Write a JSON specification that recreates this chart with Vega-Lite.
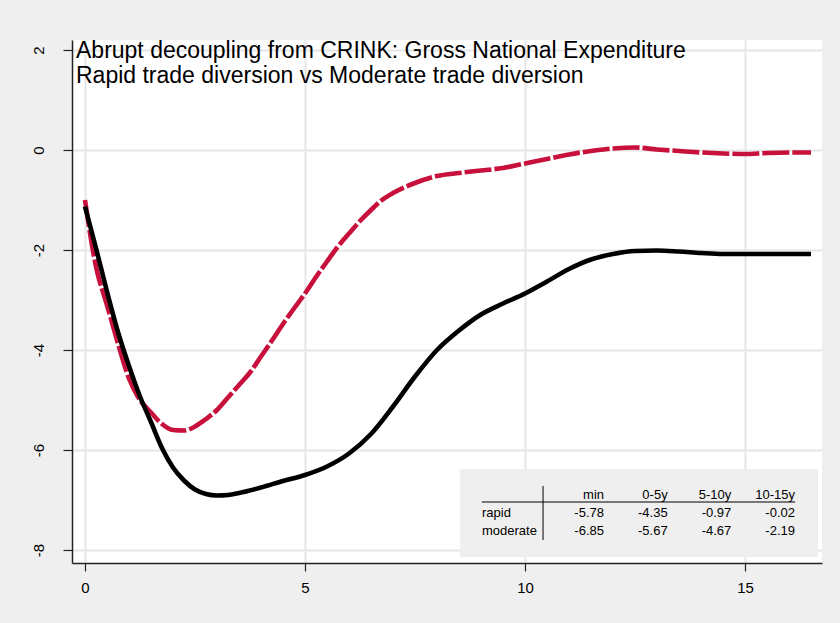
{
  "$schema": "https://vega.github.io/schema/vega-lite/v6.json",
  "autosize": {"type": "none"},
  "width": 750,
  "height": 523,
  "padding": {"left": 72, "top": 40, "right": 18, "bottom": 60},
  "background": "#efefef",
  "config": {
    "view": {"stroke": null, "fill": "white"},
    "font": "Liberation Sans",
    "axis": {
      "labelFont": "Liberation Sans",
      "labelFontSize": 15,
      "labelColor": "black",
      "domainColor": "#222",
      "domainWidth": 1.5,
      "tickColor": "#222",
      "tickWidth": 1.2,
      "gridColor": "#e6e6e6",
      "gridWidth": 2,
      "title": null,
      "labelExpr": "toString(datum.value)"
    }
  },
  "title": {
    "text": ["Abrupt decoupling from CRINK: Gross National Expenditure", "Rapid trade diversion vs Moderate trade diversion"],
    "anchor": "start",
    "frame": "group",
    "orient": "top",
    "baseline": "top",
    "offset": 0,
    "dx": 4,
    "dy": 48,
    "font": "Liberation Sans",
    "fontSize": 23,
    "fontWeight": "normal",
    "color": "black",
    "lineHeight": 25
  },
  "datasets": {
    "series": [
      {"t": 0, "series": "rapid", "value": -1.00},
      {"t": 0.25, "series": "rapid", "value": -2.33},
      {"t": 0.5, "series": "rapid", "value": -3.10},
      {"t": 0.75, "series": "rapid", "value": -3.87},
      {"t": 1.0, "series": "rapid", "value": -4.57},
      {"t": 1.25, "series": "rapid", "value": -5.00},
      {"t": 1.5, "series": "rapid", "value": -5.25},
      {"t": 1.75, "series": "rapid", "value": -5.48},
      {"t": 2.0, "series": "rapid", "value": -5.60},
      {"t": 2.25, "series": "rapid", "value": -5.61},
      {"t": 2.5, "series": "rapid", "value": -5.53},
      {"t": 2.75, "series": "rapid", "value": -5.38},
      {"t": 3.0, "series": "rapid", "value": -5.20},
      {"t": 3.25, "series": "rapid", "value": -4.95},
      {"t": 3.5, "series": "rapid", "value": -4.70},
      {"t": 3.75, "series": "rapid", "value": -4.45},
      {"t": 4.0, "series": "rapid", "value": -4.13},
      {"t": 4.25, "series": "rapid", "value": -3.81},
      {"t": 4.5, "series": "rapid", "value": -3.48},
      {"t": 4.75, "series": "rapid", "value": -3.17},
      {"t": 5.0, "series": "rapid", "value": -2.87},
      {"t": 5.25, "series": "rapid", "value": -2.54},
      {"t": 5.5, "series": "rapid", "value": -2.23},
      {"t": 5.75, "series": "rapid", "value": -1.93},
      {"t": 6.0, "series": "rapid", "value": -1.67},
      {"t": 6.25, "series": "rapid", "value": -1.42},
      {"t": 6.5, "series": "rapid", "value": -1.20},
      {"t": 6.75, "series": "rapid", "value": -1.00},
      {"t": 7.0, "series": "rapid", "value": -0.86},
      {"t": 7.5, "series": "rapid", "value": -0.66},
      {"t": 8.0, "series": "rapid", "value": -0.52},
      {"t": 8.5, "series": "rapid", "value": -0.46},
      {"t": 9.0, "series": "rapid", "value": -0.41},
      {"t": 9.5, "series": "rapid", "value": -0.36},
      {"t": 10.0, "series": "rapid", "value": -0.27},
      {"t": 10.5, "series": "rapid", "value": -0.18},
      {"t": 11.0, "series": "rapid", "value": -0.09},
      {"t": 11.5, "series": "rapid", "value": -0.02},
      {"t": 12.0, "series": "rapid", "value": 0.03},
      {"t": 12.5, "series": "rapid", "value": 0.05},
      {"t": 13.0, "series": "rapid", "value": 0.01},
      {"t": 13.5, "series": "rapid", "value": -0.02},
      {"t": 14.0, "series": "rapid", "value": -0.05},
      {"t": 14.5, "series": "rapid", "value": -0.07},
      {"t": 15.0, "series": "rapid", "value": -0.08},
      {"t": 15.5, "series": "rapid", "value": -0.06},
      {"t": 16.0, "series": "rapid", "value": -0.05},
      {"t": 16.5, "series": "rapid", "value": -0.05},
      {"t": 0, "series": "moderate", "value": -1.13},
      {"t": 0.25, "series": "moderate", "value": -1.96},
      {"t": 0.5, "series": "moderate", "value": -2.83},
      {"t": 0.75, "series": "moderate", "value": -3.64},
      {"t": 1.0, "series": "moderate", "value": -4.32},
      {"t": 1.25, "series": "moderate", "value": -4.93},
      {"t": 1.5, "series": "moderate", "value": -5.44},
      {"t": 1.75, "series": "moderate", "value": -5.96},
      {"t": 2.0, "series": "moderate", "value": -6.35},
      {"t": 2.25, "series": "moderate", "value": -6.61},
      {"t": 2.5, "series": "moderate", "value": -6.79},
      {"t": 2.75, "series": "moderate", "value": -6.88},
      {"t": 3.0, "series": "moderate", "value": -6.91},
      {"t": 3.25, "series": "moderate", "value": -6.90},
      {"t": 3.5, "series": "moderate", "value": -6.86},
      {"t": 4.0, "series": "moderate", "value": -6.75},
      {"t": 4.5, "series": "moderate", "value": -6.62},
      {"t": 5.0, "series": "moderate", "value": -6.50},
      {"t": 5.5, "series": "moderate", "value": -6.33},
      {"t": 6.0, "series": "moderate", "value": -6.07},
      {"t": 6.5, "series": "moderate", "value": -5.68},
      {"t": 7.0, "series": "moderate", "value": -5.13},
      {"t": 7.5, "series": "moderate", "value": -4.53},
      {"t": 8.0, "series": "moderate", "value": -4.00},
      {"t": 8.5, "series": "moderate", "value": -3.61},
      {"t": 9.0, "series": "moderate", "value": -3.29},
      {"t": 9.5, "series": "moderate", "value": -3.07},
      {"t": 10.0, "series": "moderate", "value": -2.87},
      {"t": 10.5, "series": "moderate", "value": -2.63},
      {"t": 11.0, "series": "moderate", "value": -2.38},
      {"t": 11.5, "series": "moderate", "value": -2.19},
      {"t": 12.0, "series": "moderate", "value": -2.08},
      {"t": 12.5, "series": "moderate", "value": -2.02},
      {"t": 13.0, "series": "moderate", "value": -2.01},
      {"t": 13.5, "series": "moderate", "value": -2.03},
      {"t": 14.0, "series": "moderate", "value": -2.06},
      {"t": 14.5, "series": "moderate", "value": -2.08},
      {"t": 15.0, "series": "moderate", "value": -2.08},
      {"t": 15.5, "series": "moderate", "value": -2.08},
      {"t": 16.0, "series": "moderate", "value": -2.08},
      {"t": 16.5, "series": "moderate", "value": -2.08}
    ],
    "table": [
      {"series": "rapid", "stat": "min", "value": -5.78},
      {"series": "rapid", "stat": "0-5y", "value": -4.35},
      {"series": "rapid", "stat": "5-10y", "value": -0.97},
      {"series": "rapid", "stat": "10-15y", "value": -0.02},
      {"series": "moderate", "stat": "min", "value": -6.85},
      {"series": "moderate", "stat": "0-5y", "value": -5.67},
      {"series": "moderate", "stat": "5-10y", "value": -4.67},
      {"series": "moderate", "stat": "10-15y", "value": -2.19}
    ],
    "headers": [
      {"stat": "min", "series": "header"},
      {"stat": "0-5y", "series": "header"},
      {"stat": "5-10y", "series": "header"},
      {"stat": "10-15y", "series": "header"}
    ],
    "rows": [
      {"stat": "min", "series": "rapid"},
      {"stat": "min", "series": "moderate"}
    ]
  },
  "layer": [
    {
      "layer": [
        {
          "data": {"name": "series"},
          "transform": [{"filter": "datum.series === 'rapid'"}],
          "mark": {"type": "line", "color": "#c8103c", "strokeWidth": 4.6, "strokeDash": [27, 3], "interpolate": "monotone", "strokeCap": "butt"},
          "encoding": {
            "x": {"field": "t", "type": "quantitative",
              "scale": {"domain": [-0.295, 16.75], "nice": false, "zero": false},
              "axis": {"values": [0, 5, 10, 15], "tickSize": 8, "labelPadding": 9, "grid": true}},
            "y": {"field": "value", "type": "quantitative",
              "scale": {"domain": [-8.26, 2.2], "nice": false, "zero": false},
              "axis": {"values": [-8, -6, -4, -2, 0, 2], "tickSize": 9, "labelAngle": -90, "labelAlign": "center", "labelBaseline": "bottom", "labelPadding": 17, "grid": true}}
          }
        },
        {
          "data": {"name": "series"},
          "transform": [{"filter": "datum.series === 'moderate'"}],
          "mark": {"type": "line", "color": "#000000", "strokeWidth": 4.6, "interpolate": "monotone"},
          "encoding": {
            "x": {"field": "t", "type": "quantitative"},
            "y": {"field": "value", "type": "quantitative"}
          }
        },
        {
          "data": {"values": [{}]},
          "mark": {"type": "rect", "fill": "#efefef"},
          "encoding": {
            "x": {"datum": 8.52, "type": "quantitative"},
            "x2": {"datum": 16.66},
            "y": {"datum": -6.38, "type": "quantitative"},
            "y2": {"datum": -8.14}
          }
        },
        {
          "data": {"values": [{}]},
          "mark": {"type": "rule", "color": "black", "strokeWidth": 1},
          "encoding": {
            "x": {"datum": 9.02, "type": "quantitative"},
            "x2": {"datum": 16.14},
            "y": {"datum": -7.04, "type": "quantitative"}
          }
        },
        {
          "data": {"values": [{}]},
          "mark": {"type": "rule", "color": "black", "strokeWidth": 1},
          "encoding": {
            "x": {"datum": 10.41, "type": "quantitative"},
            "y": {"datum": -6.72, "type": "quantitative"},
            "y2": {"datum": -7.8}
          }
        }
      ]
    },
    {
      "layer": [
        {
          "data": {"name": "table"},
          "mark": {"type": "text", "align": "right", "baseline": "alphabetic", "fontSize": 13, "color": "black", "text": {"expr": "replace(format(datum.value, '.2f'), '\u2212', '-')"}},
          "encoding": {
            "x": {"field": "stat", "type": "ordinal", "scale": {"type": "point", "domain": ["min", "0-5y", "5-10y", "10-15y"], "range": [532, 723], "padding": 0}, "axis": null},
            "y": {"field": "series", "type": "ordinal", "scale": {"type": "point", "domain": ["header", "rapid", "moderate"], "range": [459, 495], "padding": 0}, "axis": null}
          }
        },
        {
          "data": {"name": "headers"},
          "mark": {"type": "text", "align": "right", "baseline": "alphabetic", "fontSize": 13, "color": "black"},
          "encoding": {
            "x": {"field": "stat", "type": "ordinal"},
            "y": {"field": "series", "type": "ordinal"},
            "text": {"field": "stat"}
          }
        },
        {
          "data": {"name": "rows"},
          "mark": {"type": "text", "align": "left", "baseline": "alphabetic", "fontSize": 13, "color": "black", "dx": -122},
          "encoding": {
            "x": {"field": "stat", "type": "ordinal"},
            "y": {"field": "series", "type": "ordinal"},
            "text": {"field": "series"}
          }
        }
      ]
    }
  ],
  "resolve": {"scale": {"x": "independent", "y": "independent"}}
}
